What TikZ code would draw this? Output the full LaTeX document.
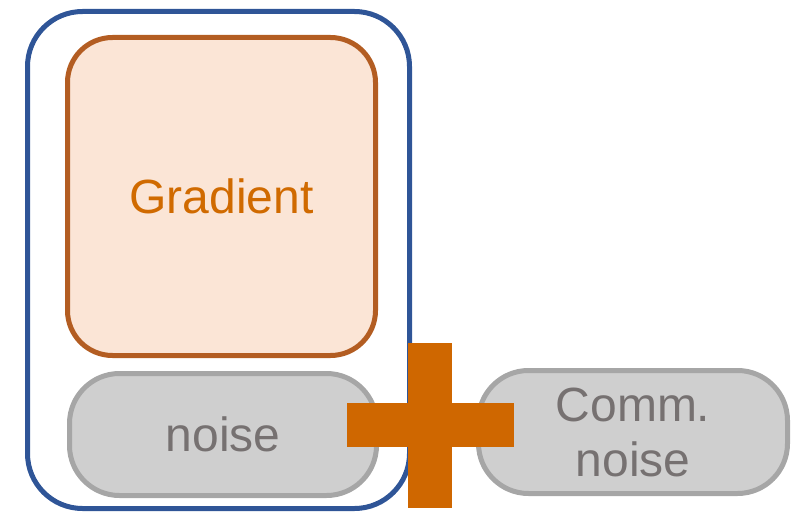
\documentclass[tikz,border=0pt]{standalone}
\usepackage{fontspec}
\setmainfont{Liberation Sans}
\definecolor{frameblue}{HTML}{2F5597}
\definecolor{gradline}{HTML}{B35D22}
\definecolor{gradfill}{HTML}{FBE5D6}
\definecolor{gradtext}{HTML}{D06A00}
\definecolor{noisefill}{HTML}{CFCFCF}
\definecolor{noiseline}{HTML}{A6A6A6}
\definecolor{noisetext}{HTML}{767171}
\definecolor{plusfill}{HTML}{CF6700}
\begin{document}
\begin{tikzpicture}[x=1pt,y=-1pt,
  box/.style={draw, line width=5pt, inner sep=0pt, anchor=north west},
  pill/.style={box, draw=noiseline, fill=noisefill, text=noisetext,
    rounded corners=50pt, font=\fontsize{48}{55}\selectfont, align=center}]
  \useasboundingbox (0,0) rectangle (795,513);
  % outer frame around one worker's contribution
  \node[box, draw=frameblue, rounded corners=55pt,
    minimum width=382pt, minimum height=497pt] (frame) at (25,9) {};
  % gradient block
  \node[box, draw=gradline, fill=gradfill, rounded corners=45pt,
    minimum width=308pt, minimum height=318pt, text=gradtext,
    font=\fontsize{48}{55}\selectfont] (grad) at (65,35) {Gradient};
  % local noise
  \node[pill, minimum width=307pt, minimum height=122pt] (noise) at (67,371) {noise};
  % communication noise
  \node[pill, minimum width=309pt, minimum height=123pt] (comm) at (476,368) {Comm.\\noise};
  % plus sign joining both
  \fill[plusfill] (408,343) rectangle (452,508);
  \fill[plusfill] (347,403) rectangle (514,447);
\end{tikzpicture}
\end{document}
